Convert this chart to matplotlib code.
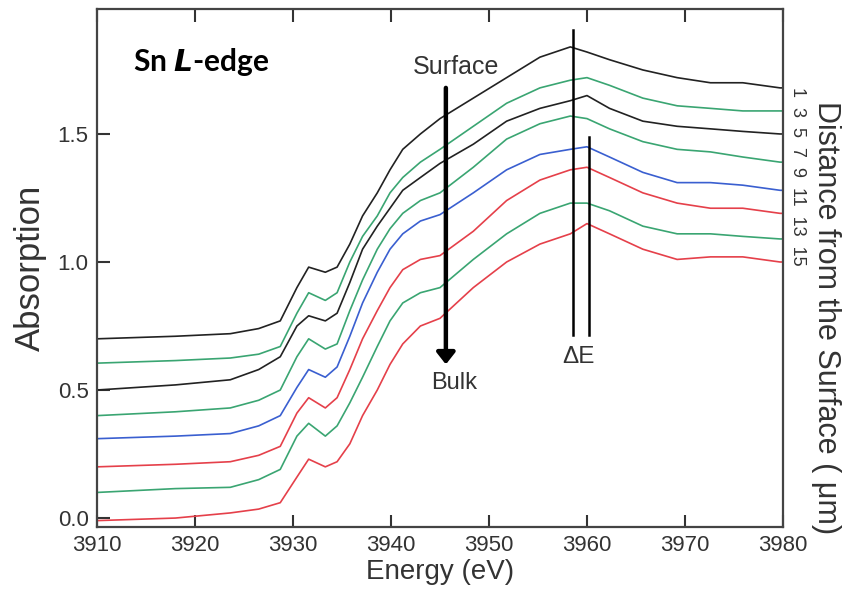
import matplotlib
matplotlib.use("Agg")
import matplotlib.pyplot as plt

# ---- data ----
energy = [3910, 3918, 3923.6, 3926.5, 3928.7, 3930.4, 3931.6, 3933.3, 3934.5, 3935.8,
          3937.1, 3938.6, 3939.9, 3941.2, 3943, 3945, 3948.4, 3951.8, 3955.2,
          3958.3, 3960, 3962.3, 3965.7, 3969.2, 3972.6, 3975.9, 3979.7, 3980]

d1 = [0.70, 0.71, 0.72, 0.74, 0.77, 0.90, 0.98, 0.96, 0.98, 1.07, 1.18, 1.27, 1.36, 1.44,
      1.50, 1.56, 1.64, 1.72, 1.80, 1.84, 1.82, 1.79, 1.75, 1.72, 1.70, 1.70, 1.68, 1.68]
d3 = [0.605, 0.615, 0.625, 0.64, 0.67, 0.80, 0.88, 0.85, 0.88, 1.00, 1.10, 1.18, 1.27, 1.33,
      1.39, 1.44, 1.53, 1.62, 1.68, 1.71, 1.72, 1.69, 1.64, 1.61, 1.60, 1.59, 1.59, 1.59]
d5 = [0.50, 0.52, 0.54, 0.58, 0.63, 0.75, 0.79, 0.77, 0.80, 0.92, 1.05, 1.14, 1.21, 1.28,
      1.33, 1.385, 1.46, 1.55, 1.60, 1.63, 1.65, 1.60, 1.55, 1.53, 1.52, 1.51, 1.50, 1.50]
d7 = [0.40, 0.415, 0.43, 0.46, 0.50, 0.63, 0.70, 0.66, 0.68, 0.81, 0.93, 1.05, 1.13, 1.19,
      1.24, 1.27, 1.37, 1.48, 1.54, 1.57, 1.56, 1.52, 1.47, 1.44, 1.43, 1.41, 1.39, 1.39]
d9 = [0.31, 0.32, 0.33, 0.36, 0.40, 0.51, 0.58, 0.55, 0.59, 0.71, 0.84, 0.96, 1.05, 1.11,
      1.16, 1.185, 1.27, 1.36, 1.42, 1.44, 1.45, 1.41, 1.35, 1.31, 1.31, 1.30, 1.28, 1.28]
d11 = [0.20, 0.21, 0.22, 0.245, 0.28, 0.41, 0.47, 0.43, 0.47, 0.58, 0.70, 0.81, 0.90, 0.97,
       1.01, 1.025, 1.12, 1.24, 1.32, 1.36, 1.37, 1.33, 1.27, 1.23, 1.21, 1.21, 1.19, 1.19]
d13 = [0.10, 0.115, 0.12, 0.15, 0.19, 0.32, 0.37, 0.32, 0.36, 0.45, 0.55, 0.67, 0.77, 0.84,
       0.88, 0.90, 1.01, 1.11, 1.19, 1.23, 1.23, 1.20, 1.14, 1.11, 1.11, 1.10, 1.09, 1.09]
d15 = [-0.01, 0.00, 0.02, 0.035, 0.06, 0.16, 0.23, 0.20, 0.22, 0.29, 0.40, 0.50, 0.60, 0.68,
       0.75, 0.78, 0.90, 1.00, 1.07, 1.11, 1.15, 1.11, 1.05, 1.01, 1.02, 1.02, 1.00, 1.00]

series = [d1, d3, d5, d7, d9, d11, d13, d15]
colors = ["#222222", "#3aa572", "#222222", "#3aa572", "#3a5fd0", "#e5404a", "#3aa572", "#e5404a"]
depth_labels = ["1", "3", "5", "7", "9", "11", "13", "15"]

x_ticks = [3910, 3920, 3930, 3940, 3950, 3960, 3970, 3980]
y_ticks = [0.0, 0.5, 1.0, 1.5]
y_ticklabels = ["0.0", "0.5", "1.0", "1.5"]

arrow_x = 3945.6
arrow_top, arrow_bottom = 1.68, 0.60
de_lines = [(3958.6, 1.905, 0.715), (3960.2, 1.488, 0.715)]

# ---- figure ----
plt.rcParams['font.family'] = ['Liberation Sans', 'DejaVu Sans']
fig = plt.figure(figsize=(8.42, 6.01), dpi=100)
ax = fig.add_axes([0.1152, 0.1231, 0.8147, 0.8619])

for s, c in zip(series, colors):
    ax.plot(energy, s, color=c, lw=1.2)

ax.set_xlim(3910, 3980)
ax.set_ylim(-0.035, 1.988)
ax.set_xticks(x_ticks)
ax.set_xticklabels([str(v) for v in x_ticks])
ax.set_yticks(y_ticks)
ax.set_yticklabels(y_ticklabels)
ax.tick_params(axis='both', direction='in', length=9, width=1.5, labelsize=16,
               colors='#333333', labelcolor='#333333', pad=6)
ax.tick_params(axis='x', top=True, labeltop=False)
for sp in ax.spines.values():
    sp.set_linewidth(1.6)
    sp.set_color('#444444')

ax.set_xlabel("Energy (eV)", fontsize=20, color='#333333', labelpad=2)
ax.set_ylabel("Absorption", fontsize=25, color='#333333', labelpad=8)

# title-like annotation
ax.text(0.052, 0.897, "Sn $\\boldsymbol{L}$-edge", transform=ax.transAxes,
        fontsize=21.5, fontweight='bold', family=['Lato', 'DejaVu Sans'],
        va='center', ha='left', color='black')

# surface -> bulk arrow
ax.annotate("", xy=(arrow_x, arrow_bottom), xytext=(arrow_x, arrow_top),
            arrowprops=dict(arrowstyle='-|>,head_width=0.55,head_length=0.7',
                            color='black', lw=3.2, shrinkA=0, shrinkB=0))
ax.text(3946.6, 1.76, "Surface", fontsize=18, ha='center', va='center', color='#333333')
ax.text(3946.4, 0.527, "Bulk", fontsize=17, ha='center', va='center', color='#333333')

# Delta E lines
for xv, y1, y0 in de_lines:
    ax.plot([xv, xv], [y0, y1], color='black', lw=1.8)
ax.text(3959.1, 0.63, "ΔE", fontsize=17.5, ha='center', va='center', color='#333333')

# right side labels
fig.text(0.947, 0.707, "  ".join(depth_labels), rotation=-90, fontsize=13,
         ha='center', va='center', color='#333333')
fig.text(0.981, 0.471, "Distance from the Surface ( μm)", rotation=-90, fontsize=22,
         ha='center', va='center', color='#333333')

fig.savefig("out.png", dpi=100)
